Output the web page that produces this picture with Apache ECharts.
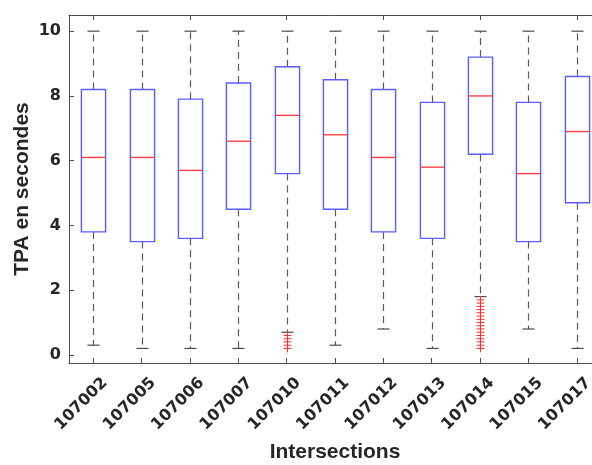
<!DOCTYPE html>
<html>
<head>
<meta charset="utf-8">
<script src="https://cdn.jsdelivr.net/npm/echarts@6/dist/echarts.min.js"></script>
<style>
  html, body { margin: 0; padding: 0; background: #fff; }
  #chart { width: 592px; height: 465px; }
</style>
</head>
<body>
<div id="chart"></div>
<script>
// Intersection identifiers along the x axis
const categories = ['107002', '107005', '107006', '107007', '107010', '107011',
                    '107012', '107013', '107014', '107015', '107017'];

// Box statistics per intersection (seconds)
const lowerWhisker = [0.3, 0.2, 0.2, 0.2, 0.7, 0.3, 0.8, 0.2, 1.8, 0.8, 0.2];
const q1           = [3.8, 3.5, 3.6, 4.5, 5.6, 4.5, 3.8, 3.6, 6.2, 3.5, 4.7];
const medians      = [6.1, 6.1, 5.7, 6.6, 7.4, 6.8, 6.1, 5.8, 8.0, 5.6, 6.9];
const q3           = [8.2, 8.2, 7.9, 8.4, 8.9, 8.5, 8.2, 7.8, 9.2, 7.8, 8.6];
const upperWhisker = [10, 10, 10, 10, 10, 10, 10, 10, 10, 10, 10];

// Outliers below the lower whisker
const outliers107010 = [0.6, 0.5, 0.4, 0.3, 0.2];
const outliers107014 = [1.7, 1.6, 1.5, 1.4, 1.3, 1.2, 1.1, 1.0, 0.9, 0.8, 0.7, 0.6, 0.5, 0.4, 0.3, 0.2];

// Y tick labels
const yTicks = [0, 2, 4, 6, 8, 10];

const boxData = categories.map((c, i) =>
  [i, lowerWhisker[i], q1[i], medians[i], q3[i], upperWhisker[i]]);

const outlierData = []
  .concat(outliers107010.map(v => [categories.indexOf('107010'), v]))
  .concat(outliers107014.map(v => [categories.indexOf('107014'), v]));

const TEXT = '#262626';
const AXIS = '#4d4d4d';
const FONT = '"Liberation Sans", Arial, Helvetica, sans-serif';
const TICK_FONT = '"DejaVu Sans", "Liberation Sans", sans-serif';

const chart = echarts.init(document.getElementById('chart'), null, { renderer: 'canvas' });

function renderBox(params, api) {
  const x = api.value(0);
  const band = api.size([1, 0])[0];
  const boxW = band * 0.5;
  const capW = band * 0.25;
  const pLow = api.coord([x, api.value(1)]);
  const pQ1 = api.coord([x, api.value(2)]);
  const pMed = api.coord([x, api.value(3)]);
  const pQ3 = api.coord([x, api.value(4)]);
  const pHigh = api.coord([x, api.value(5)]);
  const cx = Math.round(pQ1[0]) + 0.5;
  const whisker = { stroke: '#5a5a5a', lineWidth: 1.2, lineDash: [7, 5] };
  const cap = { stroke: '#4a4a4a', lineWidth: 1.2 };
  return {
    type: 'group',
    children: [
      { type: 'line', shape: { x1: cx, y1: pQ3[1], x2: cx, y2: pHigh[1] }, style: whisker },
      { type: 'line', shape: { x1: cx, y1: pQ1[1], x2: cx, y2: pLow[1] }, style: whisker },
      { type: 'line', shape: { x1: cx - capW / 2, y1: pHigh[1], x2: cx + capW / 2, y2: pHigh[1] }, style: cap },
      { type: 'line', shape: { x1: cx - capW / 2, y1: pLow[1], x2: cx + capW / 2, y2: pLow[1] }, style: cap },
      { type: 'rect',
        shape: { x: cx - boxW / 2, y: pQ3[1], width: boxW, height: pQ1[1] - pQ3[1] },
        style: { fill: 'rgba(255,255,255,0)', stroke: '#5c5cff', lineWidth: 1.4 } },
      { type: 'line', shape: { x1: cx - boxW / 2, y1: pMed[1], x2: cx + boxW / 2, y2: pMed[1] },
        style: { stroke: '#ff4040', lineWidth: 1.4 } }
    ]
  };
}

function renderOutlier(params, api) {
  const p = api.coord([api.value(0), api.value(1)]);
  const cx = Math.round(p[0]) + 0.5;
  const r = 4;
  const st = { stroke: '#ff3030', lineWidth: 1 };
  return {
    type: 'group',
    children: [
      { type: 'line', shape: { x1: cx - r, y1: p[1], x2: cx + r, y2: p[1] }, style: st },
      { type: 'line', shape: { x1: cx, y1: p[1] - r, x2: cx, y2: p[1] + r }, style: st }
    ]
  };
}

const option = {
  animation: false,
  backgroundColor: '#ffffff',
  grid: { left: 69, top: 15, width: 532, height: 348, outerBoundsMode: 'none', show: false },
  xAxis: [
    {
      type: 'category',
      data: categories,
      position: 'bottom',
      boundaryGap: true,
      name: 'Intersections',
      nameLocation: 'middle',
      nameGap: 79,
      nameMoveOverlap: false,
      nameTextStyle: { fontFamily: FONT, fontWeight: 'bold', fontSize: 21, color: TEXT },
      axisLine: { show: true, onZero: false, lineStyle: { color: AXIS, width: 1 } },
      axisTick: { show: true, inside: true, length: 5, alignWithLabel: true, lineStyle: { color: AXIS } },
      axisLabel: {
        rotate: 45, margin: 0, verticalAlign: 'top', lineHeight: 41, padding: [0, 4, 0, 0],
        showMinLabel: true, showMaxLabel: true, hideOverlap: false, interval: 0,
        fontFamily: TICK_FONT, fontWeight: 'bold', fontSize: 16, color: TEXT
      },
      splitLine: { show: false }
    },
    {
      type: 'category',
      data: categories,
      position: 'top',
      boundaryGap: true,
      axisLine: { show: true, onZero: false, lineStyle: { color: AXIS, width: 1 } },
      axisTick: { show: true, inside: true, length: 5, alignWithLabel: true, lineStyle: { color: AXIS } },
      axisLabel: { show: false },
      splitLine: { show: false }
    }
  ],
  yAxis: [
    {
      type: 'value',
      min: -0.25,
      max: 10.5,
      position: 'left',
      name: 'TPA en secondes',
      nameLocation: 'middle',
      nameGap: 36,
      nameMoveOverlap: false,
      nameTextStyle: { fontFamily: FONT, fontWeight: 'bold', fontSize: 21, color: TEXT },
      axisLine: { show: true, onZero: false, lineStyle: { color: AXIS, width: 1 } },
      axisTick: { show: true, inside: true, length: 5, customValues: yTicks, lineStyle: { color: AXIS } },
      axisLabel: { margin: 8, customValues: yTicks, fontFamily: TICK_FONT, fontWeight: 'bold', fontSize: 16, color: TEXT },
      splitLine: { show: false }
    },
    {
      type: 'value',
      min: -0.25,
      max: 10.5,
      position: 'right',
      axisLine: { show: true, onZero: false, lineStyle: { color: AXIS, width: 1 } },
      axisTick: { show: true, inside: true, length: 5, customValues: yTicks, lineStyle: { color: AXIS } },
      axisLabel: { show: false },
      splitLine: { show: false }
    }
  ],
  series: [
    {
      type: 'custom',
      renderItem: renderBox,
      data: boxData,
      encode: { x: 0, y: [1, 2, 3, 4, 5] },
      z: 2
    },
    {
      type: 'custom',
      renderItem: renderOutlier,
      data: outlierData,
      encode: { x: 0, y: 1 },
      z: 3
    }
  ]
};

chart.setOption(option);
</script>
</body>
</html>
